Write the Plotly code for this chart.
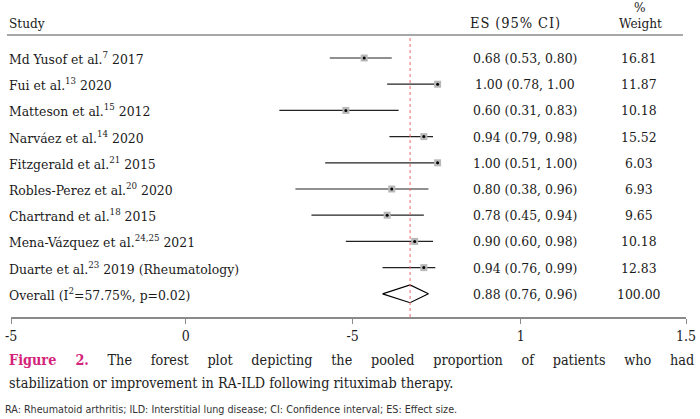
import plotly.graph_objects as go

studies = [
    "Md Yusof et al.<sup>7</sup> 2017",
    "Fui et al.<sup>13</sup> 2020",
    "Matteson et al.<sup>15</sup> 2012",
    "Narváez et al.<sup>14</sup> 2020",
    "Fitzgerald et al.<sup>21</sup> 2015",
    "Robles-Perez et al.<sup>20</sup> 2020",
    "Chartrand et al.<sup>18</sup> 2015",
    "Mena-Vázquez et al.<sup>24,25</sup> 2021",
    "Duarte et al.<sup>23</sup> 2019 (Rheumatology)",
]
es = [0.68, 1.00, 0.60, 0.94, 1.00, 0.80, 0.78, 0.90, 0.94]
lo = [0.53, 0.78, 0.31, 0.79, 0.51, 0.38, 0.45, 0.60, 0.76]
hi = [0.80, 1.00, 0.83, 0.98, 1.00, 0.96, 0.94, 0.98, 0.99]
es_labels = [
    "0.68 (0.53, 0.80)", "1.00 (0.78, 1.00", "0.60 (0.31, 0.83)",
    "0.94 (0.79, 0.98)", "1.00 (0.51, 1.00)", "0.80 (0.38, 0.96)",
    "0.78 (0.45, 0.94)", "0.90 (0.60, 0.98)", "0.94 (0.76, 0.99)",
]
weights = [16.81, 11.87, 10.18, 15.52, 6.03, 6.93, 9.65, 10.18, 12.83]

overall_label = "Overall (I<sup>2</sup>=57.75%, p=0.02)"
overall_es = 0.88
overall_lo = 0.76
overall_hi = 0.96
overall_es_label = "0.88 (0.76, 0.96)"
overall_weight = 100.00

tick_vals = [-0.860, -0.098, 0.629, 1.363, 2.083]
tick_text = ["-5", "0", "-5", "1", "1.5"]

SERIF = "DejaVu Serif Condensed, Liberation Serif"
FS = 13.8
rows = list(range(len(studies)))
orow = len(studies)

fig = go.Figure()

fig.add_trace(go.Scatter(
    x=es, y=rows, mode="markers",
    marker=dict(symbol="square", size=7, color="#b8b8b8"),
    error_x=dict(type="data", symmetric=False,
                 array=[h - e for h, e in zip(hi, es)],
                 arrayminus=[e - l for e, l in zip(es, lo)],
                 width=0, thickness=1.2, color="#222222"),
    hoverinfo="skip", showlegend=False))
fig.add_trace(go.Scatter(
    x=es, y=rows, mode="markers",
    marker=dict(symbol="circle", size=3, color="black"),
    hoverinfo="skip", showlegend=False))

dh = 0.34
fig.add_trace(go.Scatter(
    x=[overall_lo, overall_es, overall_hi, overall_es, overall_lo],
    y=[orow, orow - dh, orow, orow + dh, orow],
    mode="lines", line=dict(color="black", width=1.2),
    hoverinfo="skip", showlegend=False))

fig.add_shape(type="line", xref="x", yref="paper", x0=overall_es, x1=overall_es,
              y0=0, y1=0.993, line=dict(color="#ee6a6a", width=1, dash="dot"))
fig.add_shape(type="line", xref="paper", yref="paper", x0=-0.006, x1=0.9956,
              y0=1, y1=1, line=dict(color="#8a8a8a", width=1.5))

def px_x(p):
    return (p - 11) / 675.0

def py_y(p):
    return (317 - p) / 282.0

F = dict(family=SERIF, size=FS, color="#1a1a1a")
ann = []
for i, (s, el, w) in enumerate(zip(studies, es_labels, weights)):
    ann.append(dict(x=px_x(7), y=i, xref="paper", yref="y", text=s,
                    xanchor="left", showarrow=False, font=F))
    ann.append(dict(x=px_x(525), y=i, xref="paper", yref="y", text=el,
                    xanchor="center", showarrow=False, font=F))
    ann.append(dict(x=px_x(639), y=i, xref="paper", yref="y", text=f"{w:.2f}",
                    xanchor="center", showarrow=False, font=F))
ann.append(dict(x=px_x(7), y=orow, xref="paper", yref="y", text=overall_label,
                xanchor="left", showarrow=False, font=F))
ann.append(dict(x=px_x(525), y=orow, xref="paper", yref="y", text=overall_es_label,
                xanchor="center", showarrow=False, font=F))
ann.append(dict(x=px_x(639), y=orow, xref="paper", yref="y", text=f"{overall_weight:.2f}",
                xanchor="center", showarrow=False, font=F))

H = dict(family=SERIF, size=13.5, color="#1a1a1a")
ann.append(dict(x=px_x(7), y=py_y(23), xref="paper", yref="paper", text="Study",
                xanchor="left", yanchor="middle", showarrow=False, font=H))
ann.append(dict(x=px_x(515), y=py_y(23), xref="paper", yref="paper",
                text="<span style='letter-spacing:0.9px'>ES (95% CI)</span>",
                xanchor="center", yanchor="middle", showarrow=False,
                font=dict(family=SERIF, size=14.5, color="#1a1a1a")))
ann.append(dict(x=px_x(640), y=py_y(23), xref="paper", yref="paper", text="Weight",
                xanchor="center", yanchor="middle", showarrow=False, font=H))
ann.append(dict(x=px_x(640), y=py_y(7), xref="paper", yref="paper", text="%",
                xanchor="center", yanchor="middle", showarrow=False, font=H))

CAP = dict(family=SERIF, size=14.3, color="#222222")
ann.append(dict(x=px_x(7), y=py_y(360), xref="paper", yref="paper",
                text="<span style='word-spacing:14.6px'><b><span style='color:#d4237a'>Figure 2.</span></b> The forest plot depicting the pooled proportion of patients who had</span>",
                xanchor="left", yanchor="middle", showarrow=False, font=CAP))
ann.append(dict(x=px_x(7), y=py_y(383), xref="paper", yref="paper",
                text="stabilization or improvement in RA-ILD following rituximab therapy.",
                xanchor="left", yanchor="middle", showarrow=False, font=CAP))
ann.append(dict(x=px_x(3), y=py_y(409), xref="paper", yref="paper",
                text="RA: Rheumatoid arthritis; ILD: Interstitial lung disease; CI: Confidence interval; ES: Effect size.",
                xanchor="left", yanchor="middle", showarrow=False,
                font=dict(size=10.7, family="DejaVu Sans Condensed, Liberation Sans", color="#333333")))

fig.update_layout(
    width=700, height=419,
    margin=dict(l=11, r=14, t=35, b=102),
    paper_bgcolor="white", plot_bgcolor="white",
    font=dict(family=SERIF, size=FS, color="#1a1a1a"),
    annotations=ann,
    xaxis=dict(range=[tick_vals[0], tick_vals[-1]], tickvals=tick_vals, ticktext=tick_text,
               showgrid=False, zeroline=False, showline=True, linecolor="#8a8a8a",
               linewidth=1.5, ticks="outside", ticklen=5, tickcolor="#8a8a8a",
               automargin=False,
               tickfont=dict(family=SERIF, size=14, color="#1a1a1a")),
    yaxis=dict(range=[9.885, -0.878], showticklabels=False, showgrid=False,
               zeroline=False, showline=False),
)

fig.write_html("out.html", config={"displayModeBar": False},
               post_script="document.body.style.margin='0px';document.body.style.padding='0px';")
